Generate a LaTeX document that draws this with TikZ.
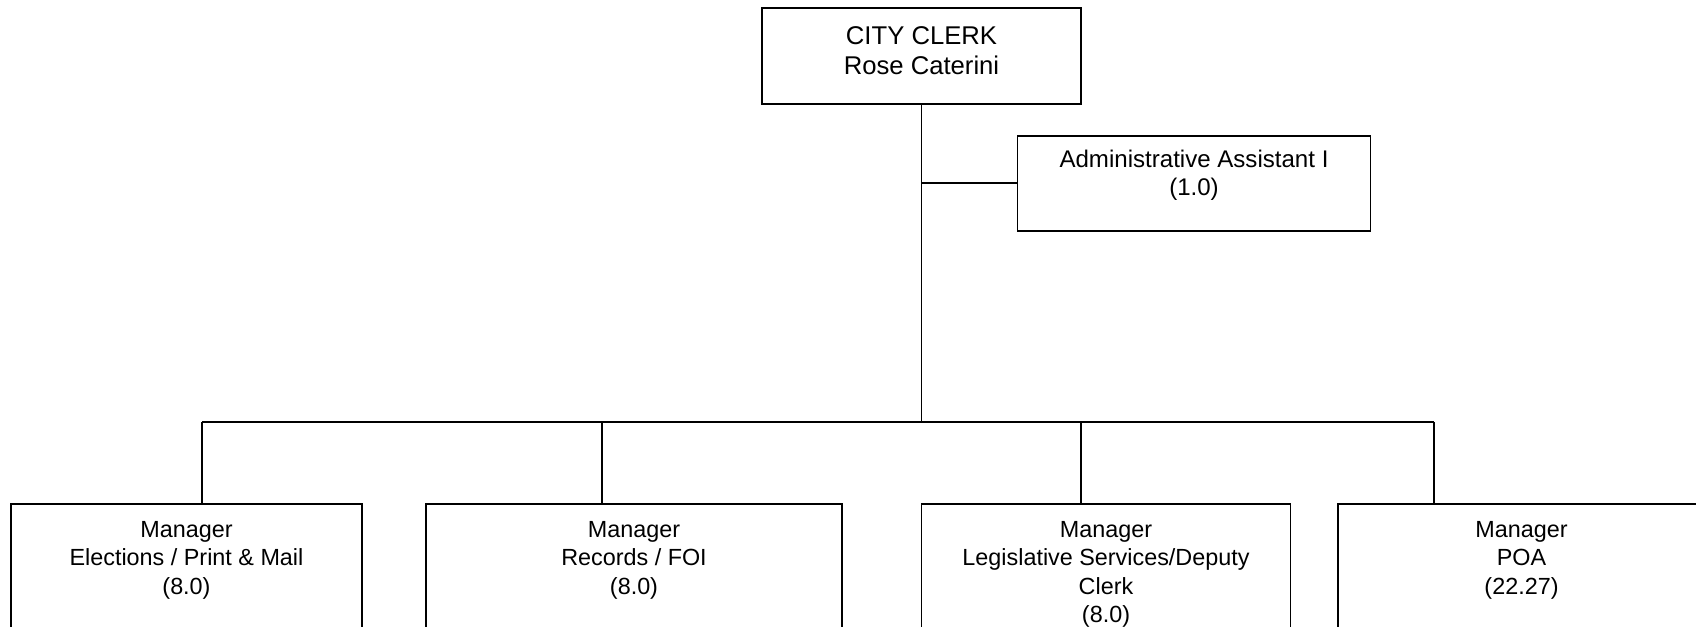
\documentclass[tikz,border=0pt]{standalone}
\usepackage{fontspec}
\setmainfont{Liberation Sans}
\usetikzlibrary{positioning,calc}

\begin{document}
\begin{tikzpicture}[line width=1.1pt,
    box/.style={draw, rectangle, anchor=north, align=center, inner ysep=0.34cm,
      text height=1.466cm, text depth=0.694cm,
      font=\fontsize{13.3pt}{16.1pt}\selectfont},
    fourlines/.style={text height=2.032cm, text depth=0.128cm},
    topbox/.style={box, inner ysep=0.36cm, text height=0.966cm, text depth=0.234cm,
      font=\fontsize{14.6pt}{17.1pt}\selectfont},
    sidebox/.style={box, inner ysep=0.294cm, text height=0.906cm, text depth=0.406cm,
      font=\fontsize{13.7pt}{16.1pt}\selectfont}]
  \useasboundingbox (0,0) rectangle (33.92,-12.54);
  \node[topbox, minimum width=6.38cm] (clerk) at (18.43,-0.14) {CITY CLERK\\Rose Caterini};
  \node[sidebox, minimum width=7.06cm] (asst) at (23.88,-2.70) {Administrative Assistant I\\(1.0)};
  \node[box, minimum width=7.03cm] (elec) at (3.73,-10.06) {Manager\\Elections / Print \& Mail\\(8.0)};
  \node[box, minimum width=8.31cm] (rec) at (12.68,-10.06) {Manager\\Records / FOI\\(8.0)};
  \node[box, fourlines, minimum width=7.38cm] (leg) at (22.12,-10.06) {Manager\\Legislative Services/Deputy\\Clerk\\(8.0)};
  \node[box, minimum width=7.34cm] (poa) at (30.43,-10.06) {Manager\\POA\\(22.27)};
  % lines
  \coordinate (bus) at (18.43,-8.44);
  \coordinate (d1) at (4.04,-8.44);
  \coordinate (d2) at (12.04,-8.44);
  \coordinate (d3) at (21.62,-8.44);
  \coordinate (d4) at (28.68,-8.44);
  \draw (clerk.south) -- (bus);
  \draw (asst.west) -- (asst.west -| clerk.south);
  \draw (d1) -- (d4);
  \foreach \d/\b in {d1/elec, d2/rec, d3/leg, d4/poa}
    \draw (\d) -- (\d |- \b.north);
\end{tikzpicture}
\end{document}
